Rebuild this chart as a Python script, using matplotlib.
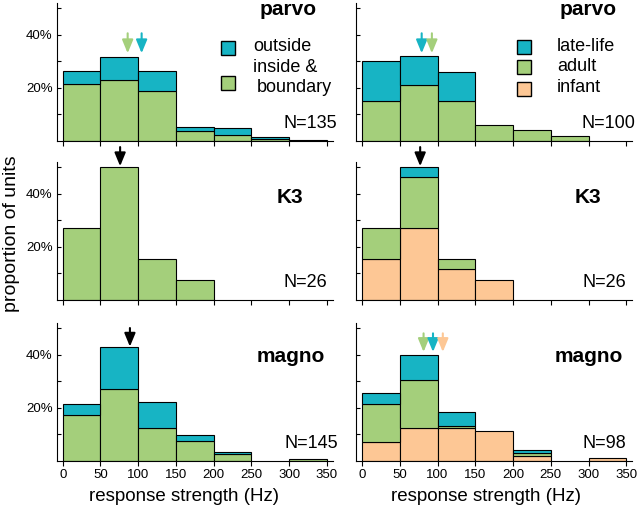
import numpy as np
import matplotlib
matplotlib.use("Agg")
import matplotlib.pyplot as plt
from matplotlib.patches import Rectangle
from matplotlib.ticker import FixedLocator, PercentFormatter

plt.rcParams['font.family'] = ['Liberation Sans', 'DejaVu Sans']

TEAL = '#17b4c4'
GREEN = '#a4cf7b'
ORANGE = '#fdc795'

bin_left = [0, 50, 100, 150, 200, 250, 300]
x_ticks = [0, 50, 100, 150, 200, 250, 300, 350]

# left column: RF location (parvo read as percent, the others as counts)
parvo_inside = [21.6, 23.1, 18.7, 3.8, 2.4, 0.9, 0.0]
parvo_outside = [4.6, 8.3, 7.5, 1.6, 2.4, 0.7, 0.5]
k3_all = [7, 13, 4, 2, 0, 0, 0]
magno_inside = [25, 39, 18, 11, 4, 0, 1]
magno_outside = [6, 23, 14, 3, 1, 0, 0]

# right column: age groups (counts)
parvo_adult = [15, 21, 15, 6, 4, 2, 0]
parvo_late = [15, 11, 11, 0, 0, 0, 0]
k3_infant = [4, 7, 3, 2, 0, 0, 0]
k3_adult = [3, 5, 1, 0, 0, 0, 0]
k3_late = [0, 1, 0, 0, 0, 0, 0]
magno_infant = [7, 12, 12, 11, 2, 0, 1]
magno_adult = [14, 18, 1, 0, 1, 0, 0]
magno_late = [4, 9, 5, 0, 1, 0, 0]

# median markers (Hz)
parvo_left_medians = [86, 104.5]
parvo_right_medians = [79, 92.5]
k3_left_median = 76
k3_right_median = 77
magno_left_median = 89
magno_right_medians = [81.5, 94, 107]

W, H = 640, 508


def fx(px):
    return px / W


def fy(py):
    return 1 - py / H


fig = plt.figure(figsize=(6.4, 5.08), dpi=100)

ax_w = 276.3 / W
ax_h = 138.3 / H
lefts = [56.7 / W, 356 / W]
bottoms = [fy(141), fy(300), fy(461)]

axes = [[fig.add_axes([l, b, ax_w, ax_h]) for l in lefts] for b in bottoms]


def stack(ax, layers, n):
    bottom = np.zeros(len(bin_left))
    for vals, col in layers:
        frac = np.array(vals, float) / n
        keep = frac > 0
        ax.bar(np.array(bin_left)[keep], frac[keep], width=50, bottom=bottom[keep],
               align='edge', color=col, edgecolor='black', linewidth=0.8, zorder=2)
        bottom += frac


def arrow(ax, x, tip, top, col):
    ax.annotate('', xy=(x, tip), xytext=(x, top),
                arrowprops=dict(arrowstyle='-|>,head_width=0.33,head_length=0.8',
                                color=col, lw=1.5, shrinkA=0, shrinkB=0),
                annotation_clip=False, zorder=5)


stack(axes[0][0], [(parvo_inside, GREEN), (parvo_outside, TEAL)], 100)
stack(axes[0][1], [(parvo_adult, GREEN), (parvo_late, TEAL)], 100)
stack(axes[1][0], [(k3_all, GREEN)], 26)
stack(axes[1][1], [(k3_infant, ORANGE), (k3_adult, GREEN), (k3_late, TEAL)], 26)
stack(axes[2][0], [(magno_inside, GREEN), (magno_outside, TEAL)], 145)
stack(axes[2][1], [(magno_infant, ORANGE), (magno_adult, GREEN), (magno_late, TEAL)], 98)

for x, c in zip(parvo_left_medians, [GREEN, TEAL]):
    arrow(axes[0][0], x, 0.33, 0.405, c)
for x, c in zip(parvo_right_medians, [TEAL, GREEN]):
    arrow(axes[0][1], x, 0.33, 0.405, c)
arrow(axes[1][0], k3_left_median, 0.503, 0.575, 'black')
arrow(axes[1][1], k3_right_median, 0.503, 0.575, 'black')
arrow(axes[2][0], magno_left_median, 0.43, 0.50, 'black')
for x, c in zip(magno_right_medians, [GREEN, TEAL, ORANGE]):
    arrow(axes[2][1], x, 0.41, 0.48, c)

for r, row in enumerate(axes):
    for c, ax in enumerate(row):
        ax.set_xlim(-8, 358)
        ax.set_ylim(0, 0.52)
        ax.spines['top'].set_visible(False)
        ax.spines['right'].set_visible(False)
        ax.spines['left'].set_linewidth(0.8)
        ax.spines['bottom'].set_linewidth(0.8)
        ax.set_xticks(x_ticks)
        ax.yaxis.set_major_locator(FixedLocator([0.2, 0.4]))
        ax.yaxis.set_minor_locator(FixedLocator([0.1, 0.3, 0.5]))
        ax.yaxis.set_major_formatter(PercentFormatter(1, decimals=0))
        ax.tick_params(axis='y', which='both', direction='in', length=3, width=0.8,
                       labelsize=9.5, pad=3)
        ax.tick_params(axis='x', direction='out', length=3.5, width=0.8,
                       labelsize=9.5, pad=2)
        if c == 1:
            ax.tick_params(axis='y', labelleft=False)
        if r < 2:
            ax.tick_params(axis='x', labelbottom=False)

# panel names and unit counts
title_kw = dict(fontsize=15, fontweight='bold', ha='right', va='baseline')
fig.text(fx(316.7), fy(15), 'parvo', **title_kw)
fig.text(fx(616.7), fy(15), 'parvo', **title_kw)
fig.text(fx(303), fy(203.3), 'K3', **title_kw)
fig.text(fx(601.7), fy(203.3), 'K3', **title_kw)
fig.text(fx(325), fy(362.3), 'magno', **title_kw)
fig.text(fx(623.3), fy(362.3), 'magno', **title_kw)

n_kw = dict(fontsize=13, ha='right', va='baseline')
fig.text(fx(336.7), fy(127.7), 'N=135', **n_kw)
fig.text(fx(635), fy(127.7), 'N=100', **n_kw)
fig.text(fx(327), fy(286.7), 'N=26', **n_kw)
fig.text(fx(626.7), fy(286.7), 'N=26', **n_kw)
fig.text(fx(338), fy(447.7), 'N=145', **n_kw)
fig.text(fx(626.7), fy(447.7), 'N=98', **n_kw)

# legends
def swatch(px, py, col):
    fig.add_artist(Rectangle((fx(px), fy(py + 14)), 14 / W, 14 / H,
                             transform=fig.transFigure, facecolor=col,
                             edgecolor='black', linewidth=1.0))


leg_kw = dict(fontsize=13, ha='left', va='center')
swatch(221, 40.5, TEAL)
swatch(221, 75.5, GREEN)
fig.text(fx(253), fy(46.7), 'outside', **leg_kw)
fig.text(fx(253), fy(68), 'inside &', **leg_kw)
fig.text(fx(257), fy(88), 'boundary', **leg_kw)

swatch(517, 39.5, TEAL)
swatch(517, 60, GREEN)
swatch(517, 81.5, ORANGE)
fig.text(fx(557), fy(46), 'late-life', **leg_kw)
fig.text(fx(557), fy(66.7), 'adult', **leg_kw)
fig.text(fx(557), fy(88), 'infant', **leg_kw)

fig.text(fx(12), fy(234), 'proportion of units', rotation=90, fontsize=14,
         ha='center', va='center')
fig.text(fx(184), fy(496.7), 'response strength (Hz)', fontsize=13.5,
         ha='center', va='center')
fig.text(fx(486), fy(496.7), 'response strength (Hz)', fontsize=13.5,
         ha='center', va='center')

fig.savefig('out.png', dpi=100)
